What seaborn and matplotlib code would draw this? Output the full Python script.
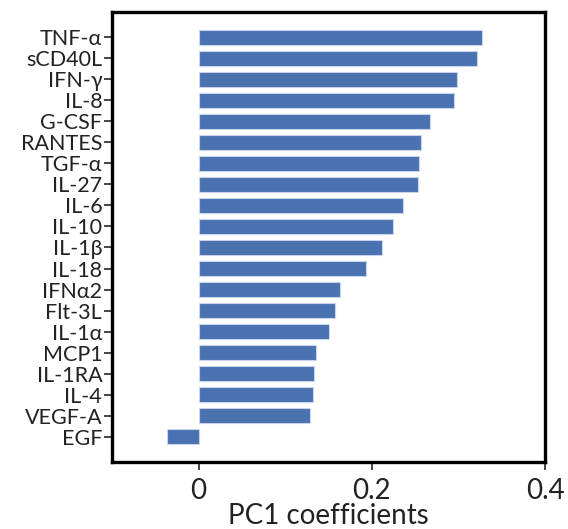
import matplotlib
matplotlib.use("Agg")
import matplotlib.pyplot as plt
import seaborn as sns
import pandas as pd

cytokines = ["TNF-α", "sCD40L", "IFN-γ", "IL-8", "G-CSF", "RANTES", "TGF-α", "IL-27",
             "IL-6", "IL-10", "IL-1β", "IL-18", "IFNα2", "Flt-3L", "IL-1α", "MCP1",
             "IL-1RA", "IL-4", "VEGF-A", "EGF"]
coefficients = [0.327, 0.321, 0.298, 0.295, 0.267, 0.257, 0.254, 0.253,
                0.236, 0.224, 0.212, 0.193, 0.163, 0.157, 0.151, 0.136,
                0.133, 0.132, 0.128, -0.037]
x_ticks = [0, 0.2, 0.4]
x_tick_labels = ["0", "0.2", "0.4"]

df = pd.DataFrame({"cytokine": cytokines, "coef": coefficients})

sns.set_style("white")
plt.rcParams["font.family"] = ["Lato", "DejaVu Sans"]

fig = plt.figure(figsize=(5.68, 5.29), dpi=100)
ax = fig.add_axes([0.197, 0.127, 0.763, 0.85])

sns.barplot(data=df, x="coef", y="cytokine", orient="h", color="#4a72b0",
            saturation=1, width=0.75, edgecolor="#c8d4ea", linewidth=0.8, ax=ax)

ax.set_xlim(-0.1, 0.4)
ax.set_ylim(20.2, -1.2)
ax.set_xticks(x_ticks)
ax.set_xticklabels(x_tick_labels, fontsize=20, color="#222222")
ax.tick_params(axis="y", labelsize=15.5, labelcolor="#222222", length=6, width=1.2,
               direction="out", left=True, pad=1)
ax.tick_params(axis="x", length=6, width=1.2, direction="out", bottom=True, pad=6)
ax.set_ylabel("")
ax.set_xlabel("PC1 coefficients", fontsize=20, color="#222222", labelpad=-1)
for s in ax.spines.values():
    s.set_visible(True)
    s.set_linewidth(2.4)
    s.set_color("black")

fig.savefig("out.png", dpi=100)
